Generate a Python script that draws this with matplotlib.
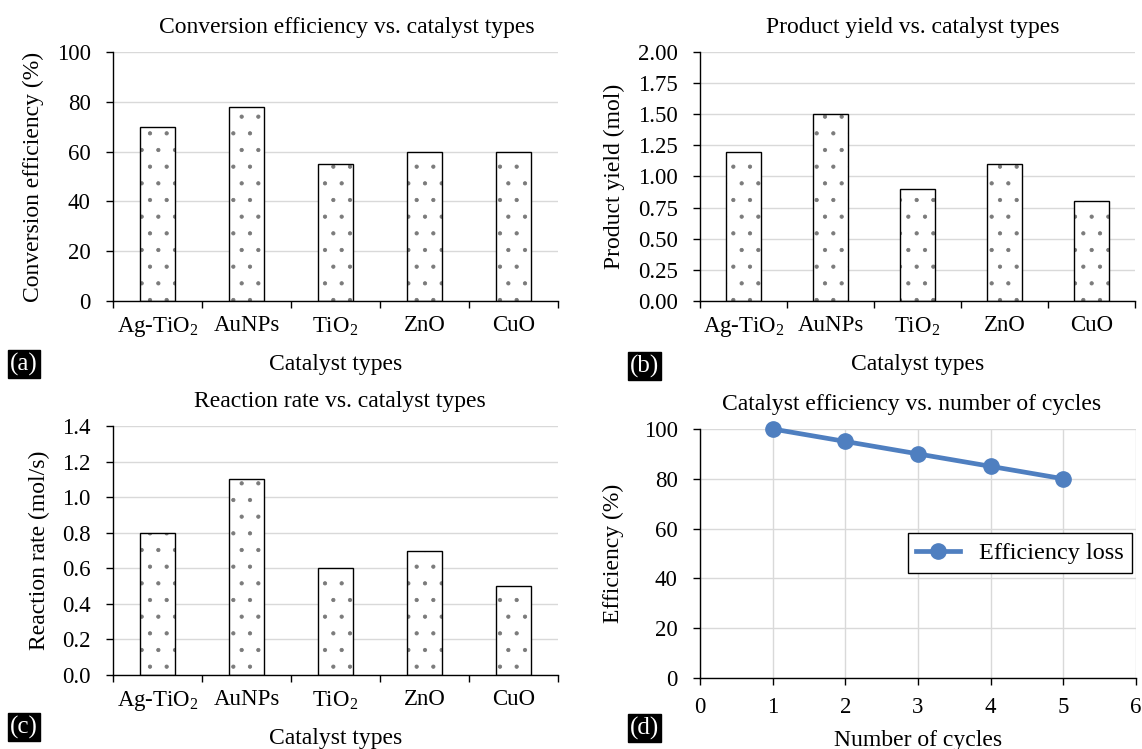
import numpy as np
import matplotlib
matplotlib.use('Agg')
import matplotlib.pyplot as plt

plt.rcParams['font.family'] = ['Liberation Serif', 'DejaVu Serif']
plt.rcParams['font.size'] = 16.5
plt.rcParams['hatch.linewidth'] = 0.6

# -- data --------------------------------------------------------------
catalysts = ['Ag-TiO$_\\mathregular{2}$', 'AuNPs', 'TiO$_\\mathregular{2}$', 'ZnO', 'CuO']
conversion = [70, 78, 55, 60, 60]
product_yield = [1.2, 1.5, 0.9, 1.1, 0.8]
reaction_rate = [0.8, 1.1, 0.6, 0.7, 0.5]
cycles = [1, 2, 3, 4, 5]
efficiency = [100, 95, 90, 85, 80]

W, H = 1142, 749
GRID = '#d9d9d9'


def px_axes(fig, left, right, top, bottom):
    # axes placed by pixel edges of the reference
    return fig.add_axes([left / W, 1 - bottom / H, (right - left) / W, (bottom - top) / H])


def style_axes(ax):
    for s in ('top', 'right'):
        ax.spines[s].set_visible(False)
    for s in ('left', 'bottom'):
        ax.spines[s].set_color('black')
        ax.spines[s].set_linewidth(1.0)
    ax.set_axisbelow(True)


def bar_panel(ax, values, ymax, ystep, fmt, title, title_x, ylabel):
    x = np.arange(len(catalysts))
    ax.bar(x, values, 0.4, color='white', edgecolor='#7a7a7a', hatch='.', linewidth=0, zorder=2)
    ax.bar(x, values, 0.4, fill=False, edgecolor='black', linewidth=1.0, zorder=3)
    ax.set_xlim(-0.5, len(catalysts) - 0.5)
    ax.set_ylim(0, ymax)
    ax.set_yticks(np.arange(0, ymax + ystep / 2, ystep))
    ax.yaxis.set_major_formatter(matplotlib.ticker.FormatStrFormatter(fmt))
    ax.set_xticks(x)
    ax.set_xticklabels(catalysts)
    ax.set_xticks(np.arange(-0.5, len(catalysts)), minor=True)
    ax.tick_params(axis='x', which='major', length=0, pad=10)
    ax.tick_params(axis='x', which='minor', length=5, width=1, direction='out')
    ax.tick_params(axis='y', length=5, width=1, direction='out', pad=11)
    ax.yaxis.grid(True, color=GRID, linewidth=1.0)
    style_axes(ax)
    ax.set_title(title, fontsize=17, pad=14, x=title_x)
    ax.set_ylabel(ylabel, fontsize=17, labelpad=9)
    ax.set_xlabel('Catalyst types', fontsize=17, labelpad=11)


def panel_tag(fig, x, y, text):
    fig.text(x / W, 1 - y / H, text, color='white', ha='left', va='center', fontsize=18,
             bbox=dict(boxstyle='square,pad=0.08', facecolor='black', edgecolor='black'))


fig = plt.figure(figsize=(W / 100, H / 100), dpi=100)

ax_a = px_axes(fig, 113, 558, 52, 301)
bar_panel(ax_a, conversion, 100, 20, '%d', 'Conversion efficiency vs. catalyst types', 0.525,
          'Conversion efficiency (%)')

ax_b = px_axes(fig, 700, 1135, 52, 301)
bar_panel(ax_b, product_yield, 2.0, 0.25, '%.2f', 'Product yield vs. catalyst types', 0.49,
          'Product yield (mol)')

ax_c = px_axes(fig, 113, 558, 426, 675)
bar_panel(ax_c, reaction_rate, 1.4, 0.2, '%.1f', 'Reaction rate vs. catalyst types', 0.51,
          'Reaction rate (mol/s)')

# -- (d) line chart ---------------------------------------------------
ax_d = px_axes(fig, 700, 1136, 429, 678)
ax_d.plot(cycles, efficiency, color='#4f7fc0', linewidth=3.4, marker='o', markersize=11,
          label='Efficiency loss', zorder=3, clip_on=False)
ax_d.set_xlim(0, 6)
ax_d.set_ylim(0, 100)
ax_d.set_xticks(range(0, 7))
ax_d.set_yticks(range(0, 101, 20))
ax_d.grid(True, color=GRID, linewidth=1.0)
ax_d.tick_params(axis='both', length=5, width=1, direction='out')
ax_d.tick_params(axis='x', pad=9)
ax_d.tick_params(axis='y', pad=11)
style_axes(ax_d)
ax_d.set_title('Catalyst efficiency vs. number of cycles', fontsize=17, pad=14, x=0.485)
ax_d.set_ylabel('Efficiency (%)', fontsize=17, labelpad=14)
ax_d.set_xlabel('Number of cycles', fontsize=17, labelpad=8)
leg = ax_d.legend(loc='center', bbox_to_anchor=(1020 / W, 1 - 553 / H),
                  bbox_transform=fig.transFigure, fancybox=False, framealpha=1,
                  edgecolor='black', handlelength=1.8, borderpad=0.35, fontsize=17.5)
leg.get_frame().set_linewidth(1.0)

panel_tag(fig, 10, 364, '(a)')
panel_tag(fig, 630, 366, '(b)')
panel_tag(fig, 10, 727, '(c)')
panel_tag(fig, 630, 728, '(d)')

fig.savefig('out.png', dpi=100)
